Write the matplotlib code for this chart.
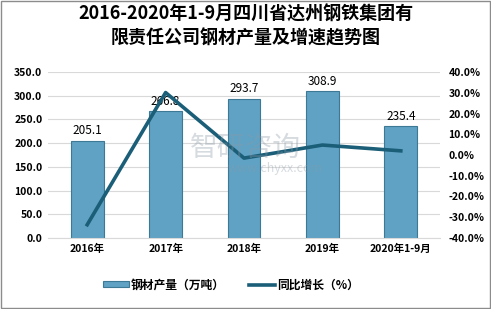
import matplotlib.pyplot as plt
import numpy as np

plt.rcParams['font.family'] = ['Noto Sans CJK SC', 'DejaVu Sans']

categories = ['2016年', '2017年', '2018年', '2019年', '2020年1-9月']
output = [205.1, 266.8, 293.7, 308.9, 235.4]
growth = [-33.6, 30.1, -1.5, 4.8, 2.0]
left_ticks = [0, 50, 100, 150, 200, 250, 300, 350]
right_ticks = [-40, -30, -20, -10, 0, 10, 20, 30, 40]

fig = plt.figure(figsize=(4.91, 3.09), dpi=100)
ax = fig.add_axes([48 / 491, 1 - 238 / 309, 392 / 491, 166 / 309])
x = np.arange(len(categories))

ax.bar(x, output, width=0.42, color='#5fa2c4', edgecolor='#3d7894', linewidth=0.8,
       label='钢材产量（万吨）', zorder=2)
for xi, v in zip(x, output):
    ax.text(xi, v + 8, f'{v:.1f}', ha='center', va='bottom', fontsize=8.5, zorder=5)

ax.set_xlim(-0.5, len(categories) - 0.5)
ax.set_ylim(0, 350)
ax.set_yticks(left_ticks)
ax.set_yticklabels([f'{t:.1f}' for t in left_ticks], fontsize=7.5, fontweight='bold')
ax.set_xticks(x)
ax.set_xticklabels(categories, fontsize=7.5, fontweight='bold')
ax.tick_params(length=0, pad=4)
ax.grid(axis='y', color='#d9d9d9', linewidth=0.8, zorder=0)
for s in ax.spines.values():
    s.set_visible(False)
ax.spines['bottom'].set_visible(True)
ax.spines['bottom'].set_color('#d9d9d9')

ax2 = ax.twinx()
ax2.plot(x, growth, color='#1b5e78', linewidth=2.6, label='同比增长（%）', zorder=3)
ax2.set_ylim(-40, 40)
ax2.set_yticks(right_ticks)
ax2.set_yticklabels([f'{t:.1f}%' for t in right_ticks], fontsize=7.5, fontweight='bold')
ax2.tick_params(length=0, pad=6)
for s in ax2.spines.values():
    s.set_visible(False)

# watermark
fig.text(0.50, 0.52, '智研咨询', fontsize=20, color='#8a9aa8', alpha=0.35,
         ha='center', va='center', zorder=10)
fig.text(0.56, 0.455, 'www.chyxx.com', fontsize=9, color='#8a9aa8', alpha=0.35,
         ha='center', va='center', zorder=10)

fig.suptitle('2016-2020年1-9月四川省达州钢铁集团有\n限责任公司钢材产量及增速趋势图',
             y=0.985, fontsize=13, fontweight='bold', linespacing=1.3)

h1, l1 = ax.get_legend_handles_labels()
h2, l2 = ax2.get_legend_handles_labels()
fig.legend(h1 + h2, l1 + l2, loc='center', bbox_to_anchor=(0.47, 1 - 285 / 309),
           ncol=2, frameon=False, handlelength=2.2, handleheight=0.4, handletextpad=0.2,
           columnspacing=2.0, prop={'weight': 'bold', 'size': 8.5})

fig.patches.append(plt.Rectangle((0.002, 0.003), 0.995, 0.994, transform=fig.transFigure,
                                 fill=False, edgecolor='#8c8c8c', linewidth=1))

fig.savefig('out.png', dpi=100)
